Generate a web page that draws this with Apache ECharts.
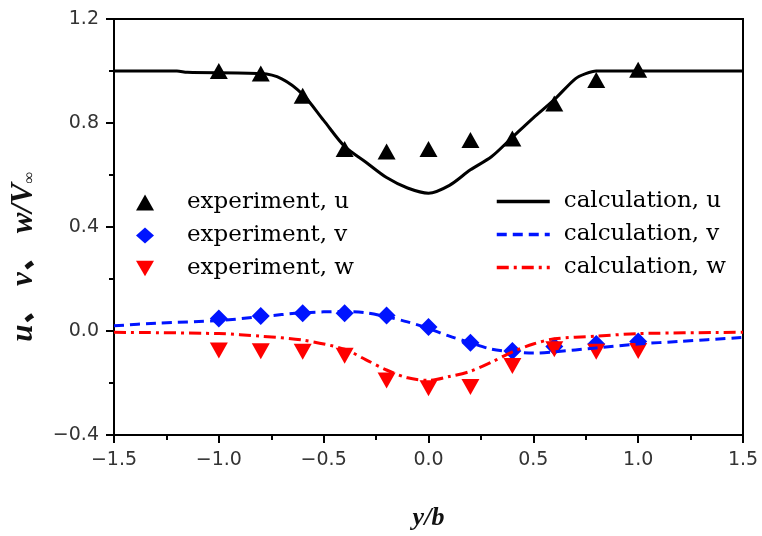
<!DOCTYPE html>
<html>
<head>
<meta charset="utf-8">
<script src="https://cdn.jsdelivr.net/npm/echarts@6/dist/echarts.min.js"></script>
<style>
  html, body { margin: 0; padding: 0; background: #fff; }
  #chart { width: 762px; height: 536px; }
</style>
</head>
<body>
<div id="chart"></div>
<script>
// experiment points (y/b)
var xExp = [-1.0, -0.8, -0.6, -0.4, -0.2, 0.0, 0.2, 0.4, 0.6, 0.8, 1.0];
var uExp = [1.0, 0.99, 0.905, 0.70, 0.69, 0.70, 0.735, 0.74, 0.875, 0.965, 1.005];
var vExp = [0.048, 0.058, 0.068, 0.068, 0.06, 0.015, -0.045, -0.077, -0.06, -0.05, -0.04];
var wExp = [-0.075, -0.078, -0.08, -0.095, -0.19, -0.22, -0.215, -0.135, -0.07, -0.08, -0.077];

// calculation curves
var xCalcU = [-1.5, -1.2, -1.15, -0.8, -0.7, -0.6, -0.5, -0.4, -0.3, -0.2, -0.1, 0.0, 0.1, 0.2, 0.3, 0.4, 0.5, 0.6, 0.7, 0.75, 0.8, 1.5];
var uCalc = [1.0, 1.0, 0.995, 0.99, 0.97, 0.91, 0.81, 0.71, 0.65, 0.59, 0.55, 0.53, 0.56, 0.62, 0.67, 0.745, 0.82, 0.89, 0.97, 0.99, 1.0, 1.0];
var xCalcV = [-1.5, -1.3, -1.0, -0.8, -0.6, -0.4, -0.3, -0.2, -0.1, 0.0, 0.1, 0.2, 0.3, 0.4, 0.5, 0.6, 0.8, 1.0, 1.2, 1.5];
var vCalc = [0.02, 0.03, 0.04, 0.055, 0.07, 0.075, 0.07, 0.055, 0.035, 0.01, -0.02, -0.045, -0.07, -0.08, -0.085, -0.08, -0.065, -0.05, -0.04, -0.025];
var xCalcW = [-1.5, -1.0, -0.8, -0.6, -0.4, -0.3, -0.2, -0.1, 0.0, 0.1, 0.2, 0.3, 0.4, 0.5, 0.6, 0.8, 1.0, 1.5];
var wCalc = [-0.005, -0.01, -0.02, -0.035, -0.07, -0.11, -0.15, -0.18, -0.19, -0.175, -0.155, -0.12, -0.08, -0.05, -0.03, -0.02, -0.01, -0.005];

var legendExp = ['experiment, u', 'experiment, v', 'experiment, w'];
var legendCalc = ['calculation, u', 'calculation, v', 'calculation, w'];

function zip(xs, ys) {
  var out = [];
  for (var i = 0; i < xs.length; i++) out.push([xs[i], ys[i]]);
  return out;
}

function fmt(v) {
  return v.toFixed(1).replace('-', '\u2212');
}

var chart = echarts.init(document.getElementById('chart'));
var serif = "'Liberation Serif', 'Noto Sans CJK SC', serif";
var legendFont = "'DejaVu Serif', serif";
var tickFont = "'DejaVu Sans', sans-serif";
var BLUE = '#0014ff';
var RED = '#ff0000';

var option = {
  backgroundColor: '#fff',
  animation: false,
  grid: {
    left: 114, right: 19, top: 19, bottom: 92,
    show: true, borderColor: '#000', borderWidth: 2
  },
  legend: [
    {
      data: [
        { name: legendExp[0] },
        { name: legendExp[1] },
        { name: legendExp[2], icon: 'path://M0,0L20,0L10,17Z' }
      ],
      orient: 'vertical',
      left: 136, top: 191, padding: 0,
      itemWidth: 18, itemHeight: 16, itemGap: 10,
      textStyle: { fontFamily: legendFont, fontSize: 23, color: '#000', padding: [0, 0, 0, 28] }
    },
    {
      data: legendCalc,
      orient: 'vertical',
      left: 495, top: 190, padding: 0,
      itemWidth: 53, itemHeight: 16, itemGap: 10,
      itemStyle: { opacity: 0 },
      lineStyle: { width: 3.5 },
      textStyle: { fontFamily: legendFont, fontSize: 23, color: '#000', padding: [0, 0, 0, 9] }
    }
  ],
  xAxis: {
    type: 'value',
    min: -1.5, max: 1.5, interval: 0.5,
    name: 'y/b',
    nameLocation: 'middle',
    nameGap: 70,
    nameTextStyle: { fontFamily: serif, fontStyle: 'italic', fontWeight: 'bold', fontSize: 26, color: '#111' },
    axisLine: { show: true, onZero: false, lineStyle: { color: '#000', width: 2 } },
    axisTick: { show: true, length: 8, lineStyle: { color: '#000', width: 2 } },
    minorTick: { show: true, splitNumber: 2, length: 5, lineStyle: { color: '#000', width: 2 } },
    splitLine: { show: false },
    axisLabel: { fontFamily: tickFont, fontSize: 19, color: '#333', margin: 16, formatter: fmt }
  },
  yAxis: {
    type: 'value',
    min: -0.4, max: 1.2, interval: 0.4,
    axisLine: { show: true, onZero: false, lineStyle: { color: '#000', width: 2 } },
    axisTick: { show: true, length: 8, lineStyle: { color: '#000', width: 2 } },
    minorTick: { show: true, splitNumber: 2, length: 5, lineStyle: { color: '#000', width: 2 } },
    splitLine: { show: false },
    axisLabel: { fontFamily: tickFont, fontSize: 19, color: '#333', margin: 15, formatter: fmt }
  },
  graphic: [
    {
      type: 'text',
      left: 8, top: 172,
      rotation: Math.PI / 2,
      style: {
        text: '{a|u\u3001 v\u3001 w/V}{s|\u221e}',
        rich: {
          a: { fontFamily: serif, fontStyle: 'italic', fontWeight: 'bold', fontSize: 31, fill: '#111' },
          s: { fontFamily: serif, fontStyle: 'italic', fontSize: 16, fill: '#111', padding: [12, 0, 0, 0] }
        }
      }
    }
  ],
  series: [
    {
      name: 'calculation, u', type: 'line', data: zip(xCalcU, uCalc),
      symbol: 'none', smooth: 0.3,
      lineStyle: { color: '#000', width: 3 }, itemStyle: { color: '#000' }
    },
    {
      name: 'calculation, v', type: 'line', data: zip(xCalcV, vCalc),
      symbol: 'none', smooth: 0.3,
      lineStyle: { color: BLUE, width: 3, type: [10, 6] }, itemStyle: { color: BLUE }
    },
    {
      name: 'calculation, w', type: 'line', data: zip(xCalcW, wCalc),
      symbol: 'none', smooth: 0.3,
      lineStyle: { color: RED, width: 3, type: [12, 5, 3, 5] }, itemStyle: { color: RED }
    },
    {
      name: 'experiment, u', type: 'scatter', data: zip(xExp, uExp),
      symbol: 'triangle', symbolSize: [18, 16], itemStyle: { color: '#000', opacity: 1 }
    },
    {
      name: 'experiment, v', type: 'scatter', data: zip(xExp, vExp),
      symbol: 'diamond', symbolSize: [18, 18], itemStyle: { color: BLUE, opacity: 1 }
    },
    {
      name: 'experiment, w', type: 'scatter', data: zip(xExp, wExp),
      symbol: 'triangle', symbolRotate: 180, symbolSize: [18, 16], itemStyle: { color: RED, opacity: 1 }
    }
  ]
};

chart.setOption(option);
</script>
</body>
</html>
